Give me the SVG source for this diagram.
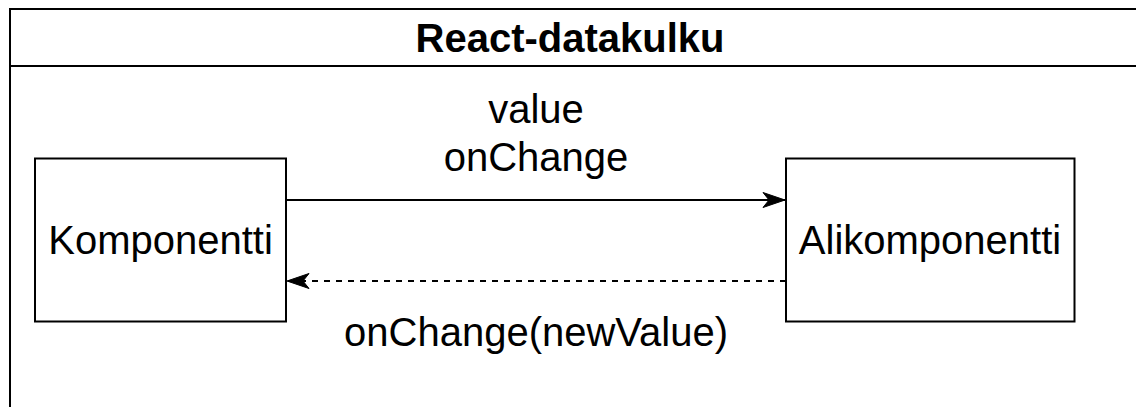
<svg xmlns="http://www.w3.org/2000/svg" width="1136" height="407" viewBox="0 0 1136 407">
  <style>
    .box { fill: #ffffff; stroke: #000000; stroke-width: 2; }
    .line { fill: none; stroke: #000000; stroke-width: 2; }
    .dash { stroke-dasharray: 6 6; }
    .txt { font-family: "Liberation Sans", Arial, Helvetica, sans-serif; font-size: 40px; fill: #000000; text-anchor: middle; }
    .title { font-weight: bold; }
  </style>
  <defs>
    <marker id="arrow" viewBox="0 0 24 16" refX="23" refY="8" markerWidth="24" markerHeight="16" markerUnits="userSpaceOnUse" orient="auto">
      <path d="M23,8 L1,0.5 L7,8 L1,15.5 Z" fill="#000000" stroke="#000000" stroke-width="1"/>
    </marker>
  </defs>
  <rect width="1136" height="407" fill="#ffffff"/>
  <g id="container">
    <rect class="box" x="10" y="9" width="1140" height="420"/>
    <line class="line" x1="10" y1="66" x2="1150" y2="66"/>
    <text class="txt title" x="570" y="52">React-datakulku</text>
  </g>
  <g id="komponentti">
    <rect class="box" x="35" y="158.5" width="251" height="163"/>
    <text class="txt" x="160.5" y="254">Komponentti</text>
  </g>
  <g id="alikomponentti">
    <rect class="box" x="786" y="158.5" width="288.5" height="163"/>
    <text class="txt" x="930" y="254">Alikomponentti</text>
  </g>
  <g id="connectors">
    <line class="line" x1="286" y1="200" x2="785" y2="200" marker-end="url(#arrow)"/>
    <text class="txt" x="536" y="123">value</text>
    <text class="txt" x="536" y="171">onChange</text>
    <line class="line dash" x1="786" y1="281" x2="287" y2="281" marker-end="url(#arrow)"/>
    <text class="txt" x="536" y="346">onChange(newValue)</text>
  </g>
</svg>
